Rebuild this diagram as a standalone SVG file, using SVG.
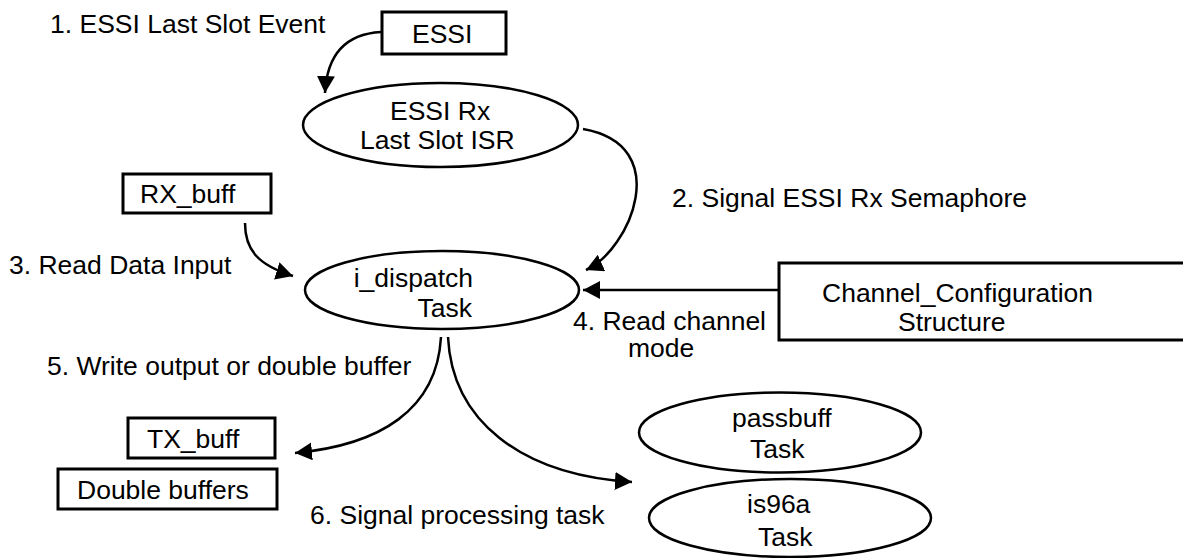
<svg xmlns="http://www.w3.org/2000/svg" width="1183" height="558" viewBox="0 0 1183 558">
<style>
text{font-family:"Liberation Sans",Arial,sans-serif;font-size:26.5px;fill:#000}
.box{fill:#fff;stroke:#000;stroke-width:3}
.ell{fill:#fff;stroke:#000;stroke-width:2.5}
.con{fill:none;stroke:#000;stroke-width:2.5;marker-end:url(#ah)}
</style>
<defs>
<marker id="ah" markerUnits="userSpaceOnUse" markerWidth="18" markerHeight="18" refX="17" refY="9" orient="auto">
<path d="M0,0 L17,9 L0,18 z" fill="#000"/>
</marker>
</defs>
<rect width="1183" height="558" fill="#fff"/>
<g id="connectors">
<path class="con" d="M381,32 C345,34 327,55 325,93"/>
<path class="con" d="M583,129 C675,145 630,250 586,270"/>
<path class="con" d="M245,223 C245,250 258,265 293,276"/>
<path class="con" d="M778,290 L583,290"/>
<path class="con" d="M441,337 C437,410 380,445 295,453"/>
<path class="con" d="M448,337 C452,420 520,475 632,482"/>
</g>
<g id="lbl1"><text x="50" y="33">1. ESSI Last Slot Event</text></g>
<g id="lbl2"><text x="672" y="207">2. Signal ESSI Rx Semaphore</text></g>
<g id="lbl3"><text x="9" y="274">3. Read Data Input</text></g>
<g id="lbl4"><text x="573" y="330">4. Read channel</text><text x="628" y="357">mode</text></g>
<g id="lbl5"><text x="47" y="375">5. Write output or double buffer</text></g>
<g id="lbl6"><text x="310" y="524">6. Signal processing task</text></g>
<g id="essi"><rect class="box" x="382" y="12" width="124" height="42"/><text x="412" y="43">ESSI</text></g>
<g id="essi_rx_isr"><ellipse class="ell" cx="440.5" cy="125" rx="137.5" ry="42"/><text x="390" y="120">ESSI Rx</text><text x="360" y="149">Last Slot ISR</text></g>
<g id="rx_buff"><rect class="box" x="123" y="174" width="148" height="39"/><text x="140" y="203">RX_buff</text></g>
<g id="i_dispatch"><ellipse class="ell" cx="442" cy="290" rx="137" ry="39"/><text x="473" y="287" text-anchor="end">i_dispatch</text><text x="472" y="317" text-anchor="end">Task</text></g>
<g id="channel_config"><rect class="box" x="779" y="263" width="420" height="77"/><text x="822" y="302">Channel_Configuration</text><text x="898" y="331">Structure</text></g>
<g id="tx_buff"><rect class="box" x="128" y="418" width="147" height="40"/><text x="147" y="448">TX_buff</text></g>
<g id="double_buffers"><rect class="box" x="58" y="469" width="219" height="40"/><text x="77" y="499">Double buffers</text></g>
<g id="passbuff"><ellipse class="ell" cx="780" cy="432.5" rx="141" ry="40"/><text x="732" y="427">passbuff</text><text x="750" y="458">Task</text></g>
<g id="is96a"><ellipse class="ell" cx="790" cy="518" rx="141" ry="39"/><text x="747" y="513">is96a</text><text x="758" y="546">Task</text></g>
</svg>
